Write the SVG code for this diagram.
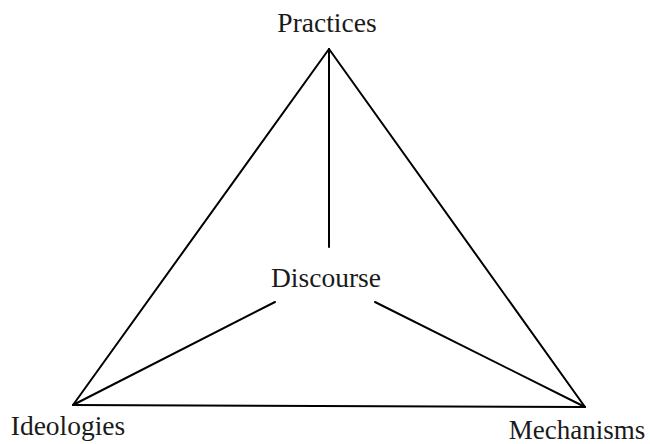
<svg xmlns="http://www.w3.org/2000/svg" width="650" height="444" viewBox="0 0 650 444">
  <style>
    .edge { stroke: #000; stroke-width: 2; fill: none; stroke-linecap: round; stroke-linejoin: round; }
    .label { font-family: "Liberation Serif", "Times New Roman", serif; font-size: 27.5px; fill: #1a1a1a; text-anchor: middle; }
  </style>
  <rect width="650" height="444" fill="#fff"/>
  <g id="connectors">
    <line class="edge" x1="329" y1="49" x2="73" y2="405"/>
    <line class="edge" x1="329" y1="49" x2="585" y2="407"/>
    <line class="edge" x1="73" y1="405" x2="585" y2="407"/>
    <line class="edge" x1="329" y1="49" x2="329" y2="247"/>
    <line class="edge" x1="73" y1="405" x2="275" y2="302"/>
    <line class="edge" x1="585" y1="407" x2="375" y2="302"/>
  </g>
  <g id="practices">
    <text class="label" x="327" y="32">Practices</text>
  </g>
  <g id="discourse">
    <text class="label" x="326" y="287">Discourse</text>
  </g>
  <g id="ideologies">
    <text class="label" x="68" y="435">Ideologies</text>
  </g>
  <g id="mechanisms">
    <text class="label" x="577" y="439" style="font-size:27px">Mechanisms</text>
  </g>
</svg>
